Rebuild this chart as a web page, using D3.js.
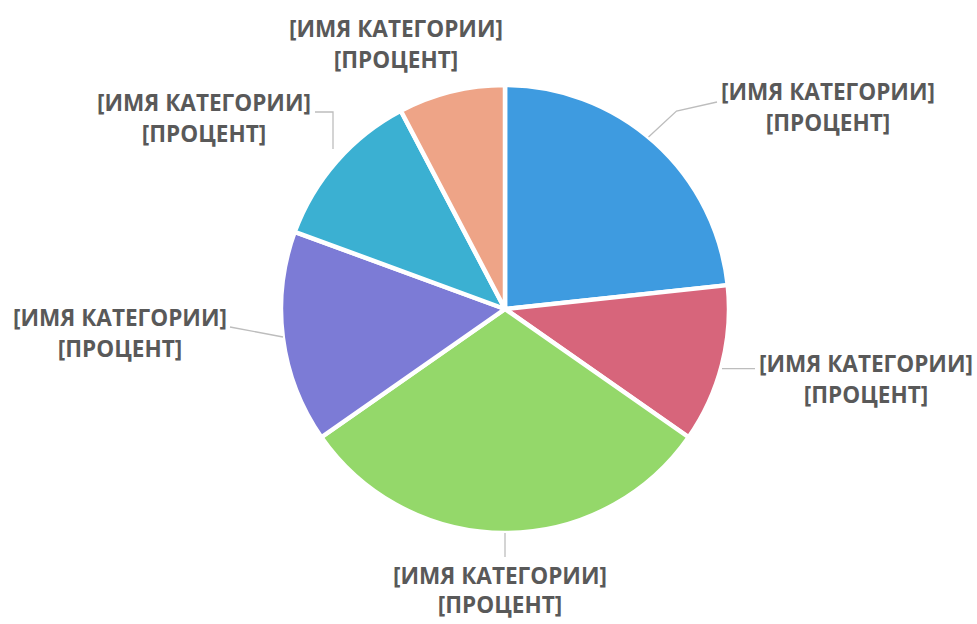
<!DOCTYPE html>
<html><head><meta charset="utf-8">
<script src="https://cdn.jsdelivr.net/npm/d3@7"></script>
<style>html,body{margin:0;padding:0;background:#fff;}</style>
</head><body>
<svg id="c" width="977" height="624"></svg>
<script>
const categories = ["[ИМЯ КАТЕГОРИИ]","[ИМЯ КАТЕГОРИИ]","[ИМЯ КАТЕГОРИИ]","[ИМЯ КАТЕГОРИИ]","[ИМЯ КАТЕГОРИИ]","[ИМЯ КАТЕГОРИИ]"];
const percentLabels = ["[ПРОЦЕНТ]","[ПРОЦЕНТ]","[ПРОЦЕНТ]","[ПРОЦЕНТ]","[ПРОЦЕНТ]","[ПРОЦЕНТ]"];
const values = [23.3, 11.4, 30.6, 15.3, 11.7, 7.7];
const colors = ["#3e9be0","#d7657b","#94d86a","#7c7bd6","#3bb0d2","#eea487"];

// layout (label centres relative to pie centre, second-line offsets)
const labelPos = [[323,-200],[361,72],[-5,284],[-385,26],[-301,-189],[-109,-263]];
const line2Off = [31,31,29,31,31,31];
const cx = 505, cy = 309, R = 224;

const svg = d3.select("#c");
const g = svg.append("g").attr("transform",`translate(${cx},${cy})`);
const pie = d3.pie().sort(null).value(d=>d)(values);
const arc = d3.arc().innerRadius(0).outerRadius(R);

g.selectAll("path.slice").data(pie).join("path")
  .attr("class","slice")
  .attr("d",arc)
  .attr("fill",(d,i)=>colors[i])
  .attr("stroke","#fff").attr("stroke-width",4.5).attr("stroke-linejoin","round");

// leader lines
const outer = (a,r)=>[Math.sin(a)*r, -Math.cos(a)*r];
const leaders = [
  (d)=>{const p=outer((d.startAngle+d.endAngle)/2*0.95,R); return [p,[p[0]+28,p[1]-26],[212,-207]];},
  (d)=>{const p=outer((d.startAngle+d.endAngle)/2,R); return [[217,p[1]+4],[250,p[1]+4]];},
  (d)=>[[0,224],[0,248]],
  (d)=>[[-275,18],[-222,28]],
  (d)=>[[-190,-197],[-172,-197],[-172,-160]],
  null
];
const line = d3.line();
pie.forEach((d,i)=>{
  if(!leaders[i]) return;
  g.append("path").attr("d",line(leaders[i](d))).attr("fill","none")
   .attr("stroke","#bdbdbd").attr("stroke-width",1.3);
});

// labels
const fontFam = "'Open Sans', 'DejaVu Sans', sans-serif";
const tmp = svg.append("text").attr("font-family",fontFam).attr("font-weight",700).attr("font-size",20).text(categories[0]);
const w20 = tmp.node().getComputedTextLength(); tmp.remove();
const fs = 20*214/w20;

pie.forEach((d,i)=>{
  const t = g.append("text").attr("text-anchor","middle").attr("font-family",fontFam)
    .attr("font-weight",700).attr("font-size",fs).attr("fill","#595959")
    .attr("transform",`translate(${labelPos[i][0]},${labelPos[i][1]})`);
  t.append("tspan").attr("x",0).attr("y",-9).text(categories[i]);
  t.append("tspan").attr("x",0).attr("y",-9+line2Off[i]).text(percentLabels[i]);
});
</script>
</body></html>
